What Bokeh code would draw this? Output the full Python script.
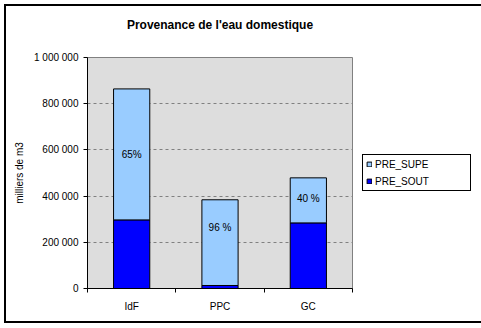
from bokeh.plotting import figure
from bokeh.models import (ColumnDataSource, FixedTicker, Range1d, Legend, LegendItem,
                          LabelSet)
from bokeh.core.properties import value
from bokeh.embed import file_html
from bokeh.resources import INLINE

# ---- data ----
categories = ["IdF", "PPC", "GC"]
pre_sout = [297000, 13000, 284000]
pre_supe = [567000, 371000, 195000]
pct_labels = ["65%", "96 %", "40 %"]
pct_label_at = [578000, 265000, 390000]
y_ticks = [0, 200000, 400000, 600000, 800000, 1000000]
title_text = "Provenance de l'eau domestique"

FONT = "Liberation Sans"

xc = [i + 0.5 for i in range(len(categories))]
tops = [a + b for a, b in zip(pre_sout, pre_supe)]
src = ColumnDataSource(dict(x=xc, sout=pre_sout, top=tops, zero=[0] * len(xc),
                            lab=pct_labels, laby=pct_label_at))

p = figure(frame_width=265, frame_height=231, output_backend="svg", toolbar_location=None,
           x_range=Range1d(0, 3), y_range=Range1d(0, 1000000),
           min_border_left=81, min_border_right=123, min_border_top=51, min_border_bottom=33,
           margin=(4, 0, 0, 4), styles={"border": "2px solid black"})
p.background_fill_color = "#dddddd"
p.border_fill_color = "white"
p.outline_line_color = "#808080"
p.outline_line_width = 1

# an empty second line keeps the title well above the plot area
p.title.text = title_text + "\n "
p.title.align = "center"
p.title.text_font = FONT
p.title.text_font_size = "12px"
p.title.text_font_style = "bold"
p.title.text_color = "black"
p.title.text_line_height = 1.5
p.title.standoff = 10

r_sout = p.vbar(x="x", bottom="zero", top="sout", width=0.41, source=src,
                fill_color="#0000ff", line_color="black", line_width=1)
r_supe = p.vbar(x="x", bottom="sout", top="top", width=0.41, source=src,
                fill_color="#99ccff", line_color="black", line_width=1)

p.add_layout(LabelSet(x="x", y="laby", text="lab", source=src, text_align="center",
                      text_baseline="middle", text_font=value(FONT), text_font_size=value("10px"),
                      text_color="black"))

# axes
p.xgrid.visible = False
p.ygrid.ticker = FixedTicker(ticks=y_ticks[1:-1])
p.ygrid.grid_line_color = "#808080"
p.ygrid.grid_line_dash = "3 3"

xa = p.xaxis[0]
xa.ticker = FixedTicker(ticks=xc, minor_ticks=[0, 1, 2, 3])
xa.major_label_overrides = {v: c for v, c in zip(xc, categories)}
xa.major_tick_out = 0
xa.major_tick_in = 0
xa.minor_tick_out = 4
xa.minor_tick_in = 0
xa.minor_tick_line_color = "black"
xa.axis_line_color = "black"
xa.major_label_text_font = FONT
xa.major_label_text_font_size = "10px"
xa.major_label_text_color = "black"
xa.major_label_standoff = 8

ya = p.yaxis[0]
ya.ticker = FixedTicker(ticks=y_ticks)
ya.major_label_overrides = {v: f"{v:,}".replace(",", " ") for v in y_ticks}
ya.major_tick_out = 4
ya.major_tick_in = 0
ya.minor_tick_out = 0
ya.minor_tick_in = 0
ya.axis_line_color = "black"
ya.major_tick_line_color = "black"
ya.major_label_text_font = FONT
ya.major_label_text_font_size = "10px"
ya.major_label_text_color = "black"
ya.major_label_standoff = 5
ya.axis_label = "milliers de m3"
ya.axis_label_text_font = FONT
ya.axis_label_text_font_size = "10px"
ya.axis_label_text_font_style = "normal"
ya.axis_label_text_color = "black"
ya.axis_label_standoff = 6

legend = Legend(items=[LegendItem(label="PRE_SUPE", renderers=[r_supe]),
                       LegendItem(label="PRE_SOUT", renderers=[r_sout])],
                location=(10, 97), glyph_width=6, glyph_height=6,
                label_text_font=FONT, label_text_font_size="10px", label_text_color="black",
                border_line_color="black", border_line_width=1, border_line_alpha=1,
                background_fill_color="white", background_fill_alpha=1,
                padding=3, spacing=5, margin=10, label_height=12, label_width=92,
                label_standoff=3)
p.add_layout(legend, "right")

open("out.html", "w").write(file_html(p, INLINE))
